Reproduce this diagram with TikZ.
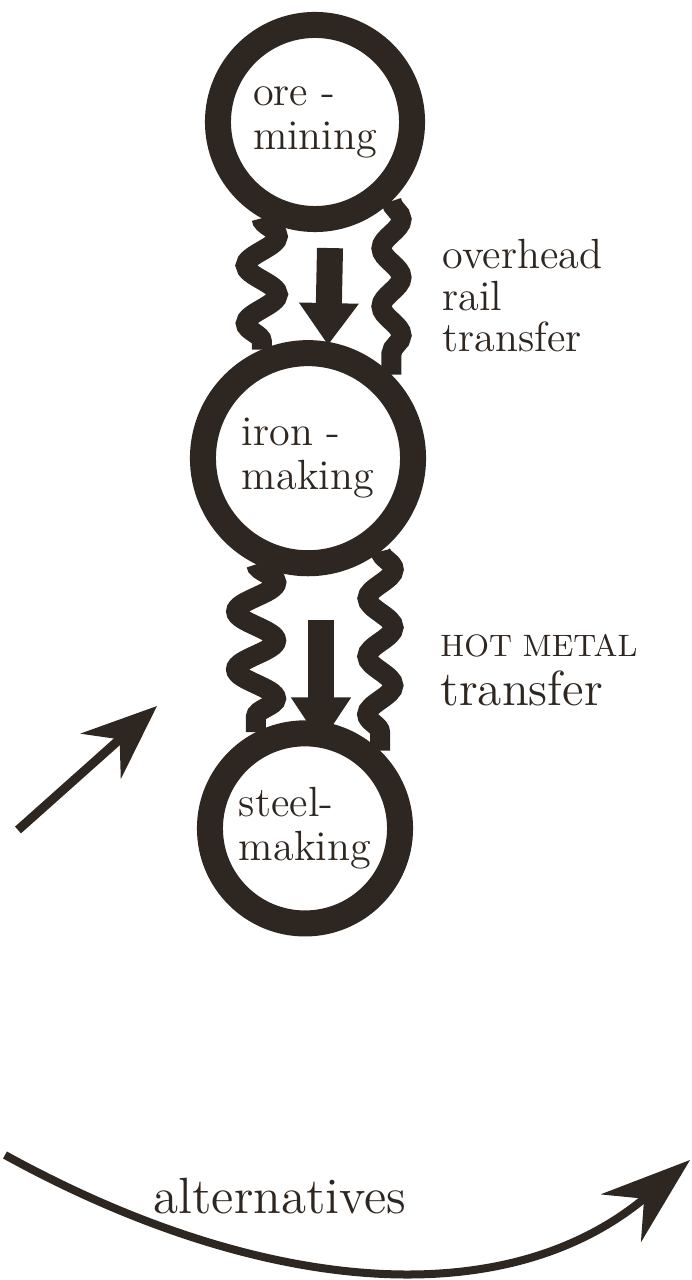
\documentclass[tikz,border=0pt]{standalone}
\usepackage{tikz}
\usetikzlibrary{arrows.meta, positioning, decorations.pathmorphing}
\definecolor{ink}{HTML}{2E2620}

\begin{document}
\begin{tikzpicture}[x=0.01cm, y=-0.01cm, every node/.style={font=\fontsize{12}{12.5}\selectfont, text=ink},
    stage/.style={draw=ink, circle, line width=0.26cm, align=left, inner sep=0pt},
    wall/.style={draw=ink, line width=0.2cm, decorate, decoration={snake, segment length=0.58cm, amplitude=#1}},
    flow/.style={draw=ink, line width=0.26cm, -{Triangle[width=0.57cm, length=0.42cm]}},
    pointer/.style={draw=ink, line width=0.09cm, -{Stealth[length=0.75cm, width=0.6cm, inset=0.25cm]}},
    note/.style={align=left, anchor=west, font=\fontsize{12}{11.8}\selectfont}]
    \useasboundingbox (0,0) rectangle (691,1280);
    % the three stages
    \node[stage, minimum size=1.94cm] (ore) at (315,122) {ore -\\mining};
    \node[stage, minimum size=2.1cm, below=1.08cm of ore, xshift=-0.07cm] (iron) {iron -\\making};
    \node[stage, minimum size=1.9cm, below=1.44cm of iron, xshift=-0.03cm] (steel) {steel-\\making};
    % wavy sides of the transfers
    \draw[wall=0.16cm] (ore.241) -- (iron.113);
    \draw[wall=0.1cm] (ore.314) -- (iron.45);
    \draw[wall=0.2cm] (iron.244) -- (steel.117);
    \draw[wall=0.13cm] (iron.308) -- (steel.46);
    \draw[flow] ([xshift=0.15cm, yshift=-0.16cm]ore.south) -- ([xshift=0.2cm, yshift=-0.05cm]iron.north);
    \draw[flow, -{Triangle[width=0.57cm, length=0.46cm]}] ([xshift=0.13cm, yshift=-0.44cm]iron.south) -- ([xshift=0.16cm, yshift=-0.23cm]steel.north);
    \node[note] (rail) at (430,296) {overhead\\rail\\transfer};
    \node[note, font=\fontsize{14}{14}\selectfont] (hot) at (428,670) {{\fontsize{8.8}{9}\selectfont HOT METAL}\\transfer};
    % arrows off to the side
    \coordinate (side in) at (18,830);
    \coordinate (side out) at (157,706);
    \draw[pointer] (side in) -- (side out);
    \coordinate (left end) at (5,1155);
    \coordinate (right end) at (690,1160);
    \draw[pointer, line width=0.08cm, -{Stealth[length=0.9cm, width=0.62cm, inset=0.3cm]}] (left end) .. controls (250,1290) and (500,1320) .. (right end);
    \node[font=\fontsize{14.5}{15}\selectfont] (alt) at (280,1196) {alternatives};
\end{tikzpicture}
\end{document}
